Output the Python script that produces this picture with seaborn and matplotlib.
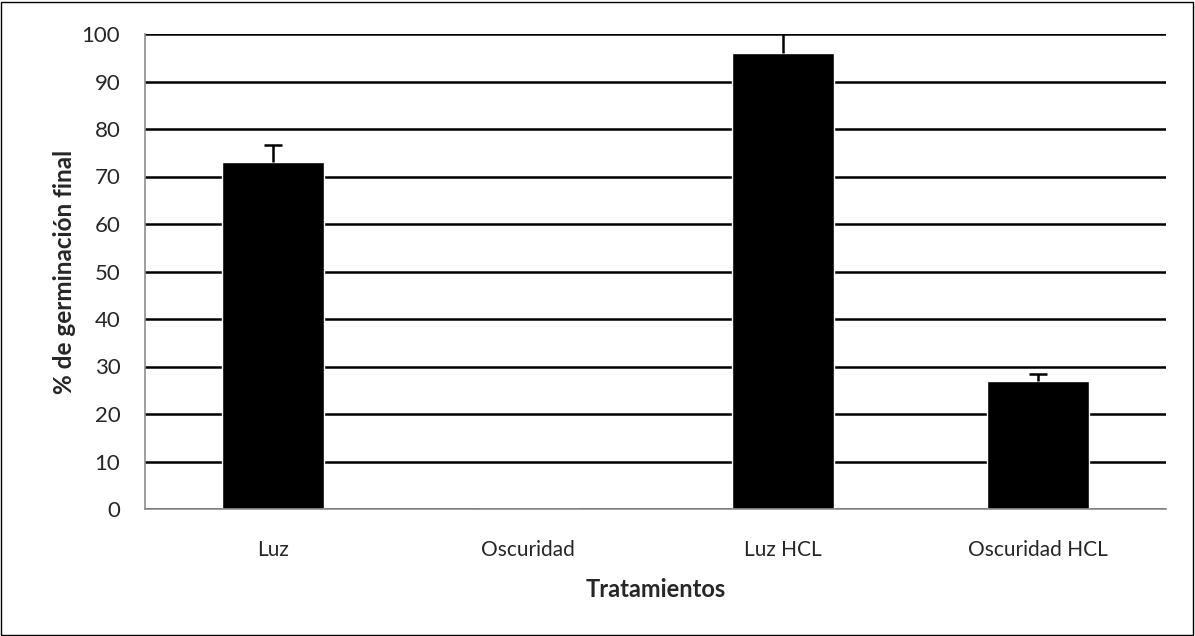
import pandas as pd
import seaborn as sns
import matplotlib.pyplot as plt
from matplotlib.patches import Rectangle

tratamientos = ["Luz", "Oscuridad", "Luz HCL", "Oscuridad HCL"]
germinacion = [73, 0, 96, 27]
error_sup = [3.7, 0, 4.5, 1.4]

data = pd.DataFrame({"Tratamiento": tratamientos, "Germinacion": germinacion})

sns.set_style("white")
plt.rcParams['font.family'] = ['Lato', 'DejaVu Sans']

fig = plt.figure(figsize=(11.95, 6.36), dpi=100)
ax = fig.add_axes([145 / 1195, 1 - 509 / 636, (1166 - 145) / 1195, (509 - 34) / 636])

ax.yaxis.grid(True, color="black", linewidth=1.8)
ax.set_axisbelow(True)
sns.barplot(x="Tratamiento", y="Germinacion", data=data, color="black",
            width=0.4, ax=ax, errorbar=None, saturation=1)

# error bars only upward, cap only on top
xs = list(range(len(tratamientos)))
tops = [g + e for g, e in zip(germinacion, error_sup)]
for x, g, t in zip(xs, germinacion, tops):
    if t > g:
        ax.vlines(x, g, t, color="black", linewidth=1.8, zorder=3)
        ax.hlines(t, x - 0.035, x + 0.035, color="black", linewidth=1.8, zorder=3)

ax.set_xlim(-0.5, 3.5)
ax.set_ylim(0, 100)
ax.set_yticks(range(0, 101, 10))
for s in ["top", "right"]:
    ax.spines[s].set_visible(False)
for s in ["left", "bottom"]:
    ax.spines[s].set_color("#8c8c8c")
    ax.spines[s].set_linewidth(1.2)
ax.tick_params(axis="y", length=5.8, width=1.2, color="#8c8c8c", labelsize=16, pad=12)
ax.tick_params(axis="x", length=0, labelsize=15, pad=22)

ax.set_xlabel("Tratamientos", fontsize=17, fontweight="bold", labelpad=13)
ax.set_ylabel("% de germinación final", fontsize=17.5, fontweight="bold", labelpad=4)

fig.patches.append(Rectangle((0.001, 0.002), 0.997, 0.995, transform=fig.transFigure,
                             fill=False, edgecolor="black", linewidth=1))

plt.savefig("out.png", dpi=100)
